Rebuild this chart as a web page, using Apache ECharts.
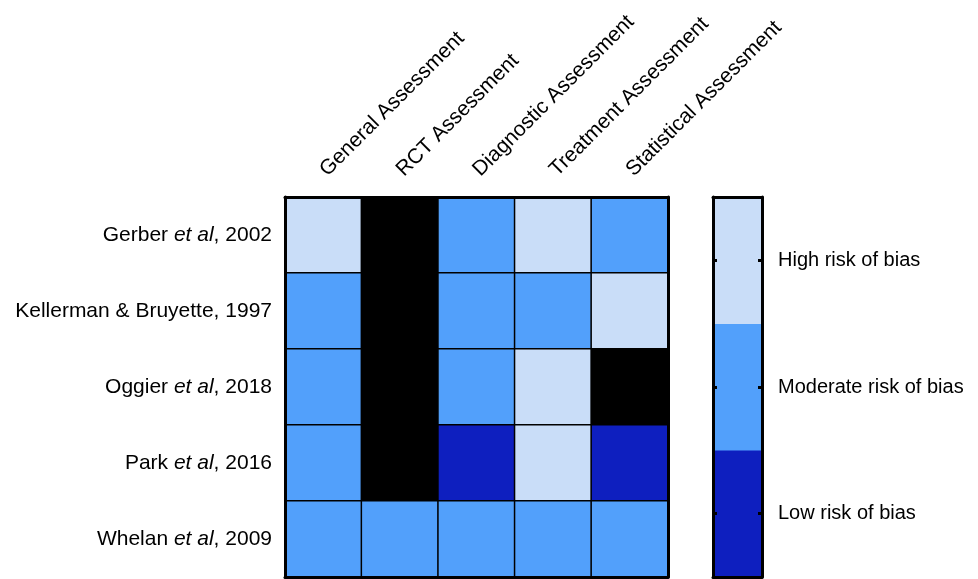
<!DOCTYPE html>
<html>
<head>
<meta charset="utf-8">
<script src="https://cdn.jsdelivr.net/npm/echarts@6/dist/echarts.min.js"></script>
<style>html,body{margin:0;padding:0;background:#fff;}#c{width:978px;height:579px;}</style>
</head>
<body>
<div id="c"></div>
<script>
// Data
const assessments = ['General Assessment', 'RCT Assessment', 'Diagnostic Assessment', 'Treatment Assessment', 'Statistical Assessment'];
const studies = ['Gerber et al, 2002', 'Kellerman & Bruyette, 1997', 'Oggier et al, 2018', 'Park et al, 2016', 'Whelan et al, 2009'];
// 0 = not applicable, 1 = low, 2 = moderate, 3 = high risk of bias
const gerber     = [3, 0, 2, 3, 2];
const kellerman  = [2, 0, 2, 2, 3];
const oggier     = [2, 0, 2, 3, 0];
const park       = [2, 0, 1, 3, 1];
const whelan     = [2, 2, 2, 2, 2];
const riskLevels = ['Low risk of bias', 'Moderate risk of bias', 'High risk of bias'];
const riskValues = [1, 2, 3];

const rows = [gerber, kellerman, oggier, park, whelan];
const cells = [];
rows.forEach((r, yi) => r.forEach((v, xi) => cells.push([xi, yi, v])));
const legendCells = riskValues.map((v, i) => [0, i, v]);

const font = '"Liberation Sans", Arial, Helvetica, sans-serif';
const chart = echarts.init(document.getElementById('c'));
chart.setOption({
  animation: false,
  backgroundColor: '#fff',
  grid: [
    { left: 285, top: 197, width: 383, height: 380 },
    { left: 713, top: 197, width: 49, height: 380 }
  ],
  visualMap: {
    show: false,
    type: 'piecewise',
    seriesIndex: [0, 1],
    dimension: 2,
    pieces: [
      { value: 0, color: '#000000' },
      { value: 1, color: '#0E1FBF' },
      { value: 2, color: '#52A0FB' },
      { value: 3, color: '#C9DDF8' }
    ]
  },
  xAxis: [
    {
      type: 'category', gridIndex: 0, position: 'top', data: assessments, z: 5,
      axisLine: { show: true, lineStyle: { color: '#000', width: 3 } },
      axisTick: { show: false }, splitLine: { show: false },
      axisLabel: { rotate: -45, margin: 24, color: '#000', fontSize: 21, fontFamily: font, interval: 0 }
    },
    {
      type: 'category', gridIndex: 0, position: 'bottom', data: assessments, z: 5,
      axisLine: { show: true, lineStyle: { color: '#000', width: 3 } },
      axisTick: { show: false }, axisLabel: { show: false }
    },
    {
      type: 'category', gridIndex: 1, data: ['k'], position: 'top', z: 5,
      axisLine: { show: true, lineStyle: { color: '#000', width: 3 } },
      axisTick: { show: false }, axisLabel: { show: false }
    },
    {
      type: 'category', gridIndex: 1, data: ['k'], position: 'bottom', z: 5,
      axisLine: { show: true, lineStyle: { color: '#000', width: 3 } },
      axisTick: { show: false }, axisLabel: { show: false }
    }
  ],
  yAxis: [
    {
      type: 'category', gridIndex: 0, data: studies, inverse: true, position: 'left', z: 5,
      axisLine: { show: true, lineStyle: { color: '#000', width: 3 } },
      axisTick: { show: false },
      axisLabel: {
        margin: 13, color: '#000', fontSize: 21, fontFamily: font,
        formatter: s => s.replace('et al', '{i|et al}'),
        rich: { i: { fontStyle: 'italic', fontSize: 21, fontFamily: font, color: '#000' } }
      }
    },
    {
      type: 'category', gridIndex: 0, data: studies, inverse: true, position: 'right', z: 5,
      axisLine: { show: true, lineStyle: { color: '#000', width: 3 } },
      axisTick: { show: false }, axisLabel: { show: false }
    },
    {
      type: 'category', gridIndex: 1, data: riskLevels, position: 'right', z: 5,
      axisLine: { show: true, lineStyle: { color: '#000', width: 3 } },
      axisTick: { show: true, inside: true, alignWithLabel: true, length: 4, lineStyle: { color: '#000', width: 3 } },
      axisLabel: { margin: 16, color: '#000', fontSize: 20, fontFamily: font }
    },
    {
      type: 'category', gridIndex: 1, data: riskLevels, position: 'left', z: 5,
      axisLine: { show: true, lineStyle: { color: '#000', width: 3 } },
      axisTick: { show: true, inside: true, alignWithLabel: true, length: 4, lineStyle: { color: '#000', width: 3 } },
      axisLabel: { show: false }
    }
  ],
  series: [
    {
      type: 'heatmap', xAxisIndex: 0, yAxisIndex: 0, data: cells,
      itemStyle: { borderColor: '#000', borderWidth: 1.5 },
      emphasis: { disabled: true }
    },
    {
      type: 'heatmap', xAxisIndex: 2, yAxisIndex: 2, data: legendCells,
      itemStyle: { borderWidth: 0 },
      emphasis: { disabled: true }
    }
  ]
});
</script>
</body>
</html>
